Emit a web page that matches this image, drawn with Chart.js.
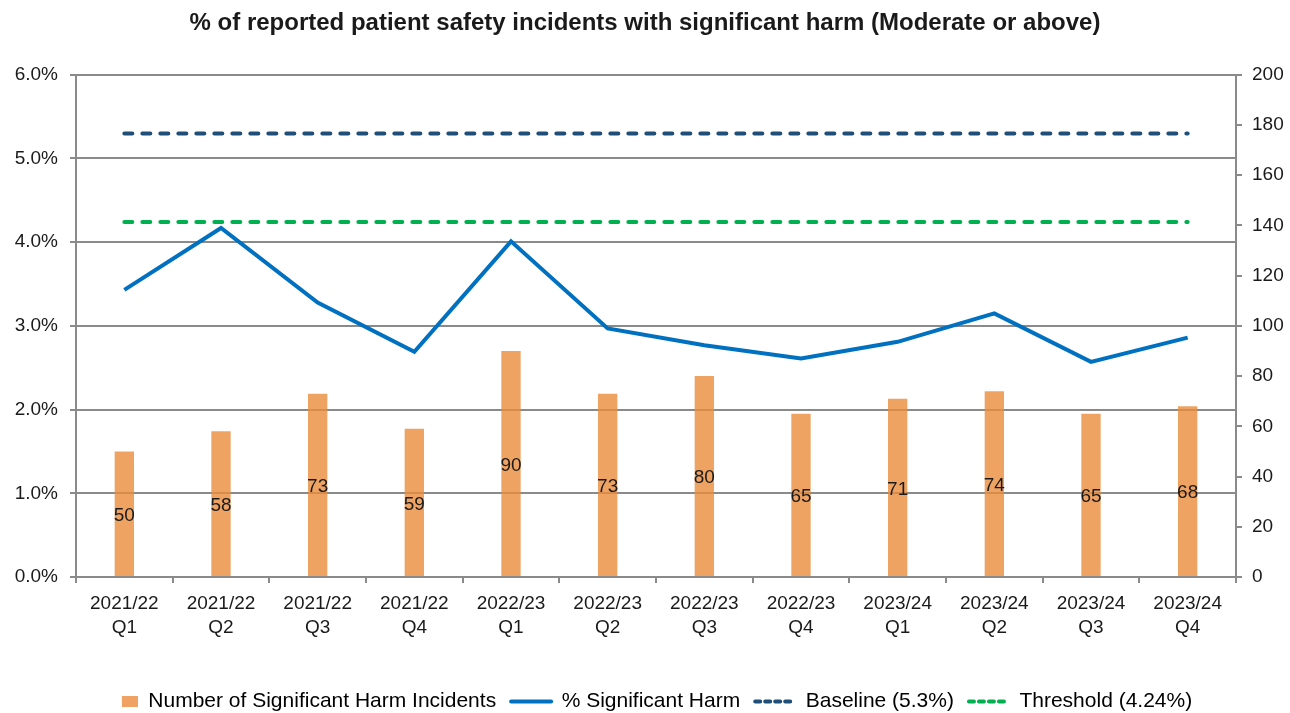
<!DOCTYPE html>
<html>
<head>
<meta charset="utf-8">
<script src="https://cdn.jsdelivr.net/npm/chart.js@4.4.1/dist/chart.umd.min.js"></script>
<style>
  body { margin: 0; background: #fff; }
  #wrap { width: 1290px; height: 713px; }
</style>
</head>
<body>
<div id="wrap"><canvas id="harmChart"></canvas></div>
<script>
// data
const quarters = [
  ['2021/22', 'Q1'], ['2021/22', 'Q2'], ['2021/22', 'Q3'], ['2021/22', 'Q4'],
  ['2022/23', 'Q1'], ['2022/23', 'Q2'], ['2022/23', 'Q3'], ['2022/23', 'Q4'],
  ['2023/24', 'Q1'], ['2023/24', 'Q2'], ['2023/24', 'Q3'], ['2023/24', 'Q4']
];
const incidents = [50, 58, 73, 59, 90, 73, 80, 65, 71, 74, 65, 68];
const pctHarm = [3.43, 4.17, 3.28, 2.69, 4.01, 2.97, 2.77, 2.61, 2.81, 3.15, 2.57, 2.86];
const baseline = [5.3, 5.3, 5.3, 5.3, 5.3, 5.3, 5.3, 5.3, 5.3, 5.3, 5.3, 5.3];
const threshold = [4.24, 4.24, 4.24, 4.24, 4.24, 4.24, 4.24, 4.24, 4.24, 4.24, 4.24, 4.24];

const axisGrey = '#8a8a8a';
const txt = '#1a1a1a';
const fontFam = '"Liberation Sans", Arial, sans-serif';

// swatch for the bar legend entry (small block at the right end of the slot)
const swatch = document.createElement('canvas');
swatch.width = 40; swatch.height = 11;
const sctx = swatch.getContext('2d');
sctx.fillStyle = '#EFA263';
sctx.fillRect(24, 0, 16, 11);

// bar values in the middle of each bar
const barLabels = {
  id: 'barLabels',
  afterDatasetsDraw(chart) {
    const ctx = chart.ctx;
    const meta = chart.getDatasetMeta(0);
    ctx.save();
    ctx.font = '19px ' + fontFam;
    ctx.fillStyle = txt;
    ctx.textAlign = 'center';
    ctx.textBaseline = 'middle';
    meta.data.forEach((bar, i) => {
      ctx.fillText(incidents[i], bar.x, (bar.y + bar.base) / 2 + 2);
    });
    ctx.restore();
  }
};

// push the legend row a bit lower, like the original
const legendNudge = {
  id: 'legendNudge',
  afterLayout(chart) {
    chart.legend.top += 9;
    chart.legend.bottom += 9;
  }
};

new Chart(document.getElementById('harmChart'), {
  type: 'bar',
  data: {
    labels: quarters,
    datasets: [
      {
        type: 'bar',
        label: 'Number of Significant Harm Incidents',
        data: incidents,
        yAxisID: 'y1',
        backgroundColor: 'rgba(235,140,60,0.8)',
        barPercentage: 0.2,
        categoryPercentage: 1
      },
      {
        type: 'line',
        label: '% Significant Harm',
        data: pctHarm,
        yAxisID: 'y',
        borderColor: '#0070C0',
        borderWidth: 4,
        pointRadius: 0,
        tension: 0
      },
      {
        type: 'line',
        label: 'Baseline (5.3%)',
        data: baseline,
        yAxisID: 'y',
        borderColor: '#1F4E79',
        borderWidth: 4,
        borderDash: [8, 10],
        borderCapStyle: 'round',
        pointRadius: 0
      },
      {
        type: 'line',
        label: 'Threshold (4.24%)',
        data: threshold,
        yAxisID: 'y',
        borderColor: '#00B050',
        borderWidth: 4,
        borderDash: [8, 10],
        borderCapStyle: 'round',
        pointRadius: 0
      }
    ]
  },
  options: {
    responsive: true,
    maintainAspectRatio: false,
    animation: false,
    plugins: {
      title: {
        display: true,
        text: '% of reported patient safety incidents with significant harm (Moderate or above)',
        color: txt,
        font: { family: fontFam, size: 24, weight: 'bold' },
        padding: { top: 9, bottom: 37 }
      },
      legend: {
        position: 'bottom',
        labels: {
          color: txt,
          font: { family: fontFam, size: 21 },
          usePointStyle: true,
          pointStyleWidth: 40,
          boxHeight: 11,
          padding: 15,
          generateLabels(chart) {
            return chart.data.datasets.map((ds, i) => ({
              text: ds.label,
              datasetIndex: i,
              fillStyle: ds.type === 'bar' ? '#EFA263' : 'transparent',
              strokeStyle: ds.borderColor || '#EFA263',
              lineWidth: 4,
              lineDash: ds.borderDash ? [5, 5] : [],
              lineCap: 'round',
              pointStyle: ds.type === 'bar' ? swatch : 'line',
              hidden: false
            }));
          }
        }
      },
      tooltip: { enabled: false }
    },
    scales: {
      x: {
        grid: { display: true, drawOnChartArea: false, color: axisGrey, lineWidth: 2, tickLength: 6 },
        border: { color: axisGrey, width: 2 },
        ticks: {
          color: txt,
          font: { family: fontFam, size: 19, lineHeight: 1.3 },
          padding: 8,
          maxRotation: 0,
          autoSkip: false
        },
        afterFit(scale) { scale.height = 90; }
      },
      y: {
        position: 'left',
        min: 0,
        max: 6,
        ticks: {
          stepSize: 1,
          color: txt,
          font: { family: fontFam, size: 19 },
          padding: 12,
          callback: v => v.toFixed(1) + '%'
        },
        grid: { color: axisGrey, lineWidth: 2, tickLength: 6 },
        border: { color: axisGrey, width: 2 },
        afterFit(scale) { scale.width = 76; }
      },
      y1: {
        position: 'right',
        min: 0,
        max: 200,
        ticks: { stepSize: 20, color: txt, font: { family: fontFam, size: 19 }, padding: 10 },
        grid: { drawOnChartArea: false, color: axisGrey, lineWidth: 2, tickLength: 6 },
        border: { color: axisGrey, width: 2 },
        afterFit(scale) { scale.width = 54; }
      }
    }
  },
  plugins: [barLabels, legendNudge]
});
</script>
</body>
</html>
